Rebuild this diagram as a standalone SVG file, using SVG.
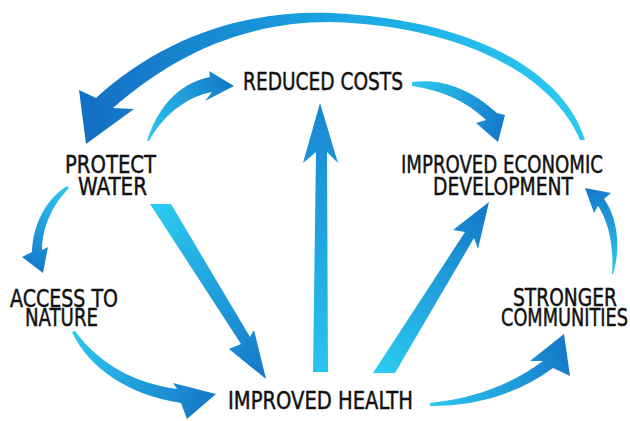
<svg xmlns="http://www.w3.org/2000/svg" width="630" height="421" viewBox="0 0 630 421">
<style>
.lbl{font-family:'DejaVu Sans Condensed','DejaVu Sans',sans-serif;font-stretch:condensed;font-size:24px;fill:#111;stroke:#111;stroke-width:0.45px;}
</style>
<defs>
<linearGradient id="g1" gradientUnits="userSpaceOnUse" x1="585" y1="140" x2="90" y2="120"><stop offset="0" stop-color="#2ccbf0"/><stop offset="0.5" stop-color="#1aa6e2"/><stop offset="1" stop-color="#1470c4"/></linearGradient>
<linearGradient id="g2" gradientUnits="userSpaceOnUse" x1="148" y1="140" x2="234" y2="86"><stop offset="0" stop-color="#2cc8ef"/><stop offset="1" stop-color="#1477c8"/></linearGradient>
<linearGradient id="g3" gradientUnits="userSpaceOnUse" x1="412" y1="84" x2="498" y2="142"><stop offset="0" stop-color="#2cc8ef"/><stop offset="1" stop-color="#1477c8"/></linearGradient>
<linearGradient id="g4" gradientUnits="userSpaceOnUse" x1="320" y1="372" x2="320" y2="103"><stop offset="0" stop-color="#2ac4ee"/><stop offset="1" stop-color="#1985d2"/></linearGradient>
<linearGradient id="g5" gradientUnits="userSpaceOnUse" x1="160" y1="204" x2="266" y2="379"><stop offset="0" stop-color="#2ccaf0"/><stop offset="1" stop-color="#1477c8"/></linearGradient>
<linearGradient id="g6" gradientUnits="userSpaceOnUse" x1="384" y1="373" x2="489" y2="202"><stop offset="0" stop-color="#2ccaf0"/><stop offset="1" stop-color="#1477c8"/></linearGradient>
<linearGradient id="g7" gradientUnits="userSpaceOnUse" x1="613" y1="274" x2="585" y2="188"><stop offset="0" stop-color="#2cc8ef"/><stop offset="1" stop-color="#1477c8"/></linearGradient>
<linearGradient id="g8" gradientUnits="userSpaceOnUse" x1="68" y1="187" x2="43" y2="273"><stop offset="0" stop-color="#2cc8ef"/><stop offset="1" stop-color="#1477c8"/></linearGradient>
<linearGradient id="g9" gradientUnits="userSpaceOnUse" x1="73" y1="332" x2="216" y2="394"><stop offset="0" stop-color="#2cc8ef"/><stop offset="1" stop-color="#1477c8"/></linearGradient>
<linearGradient id="g10" gradientUnits="userSpaceOnUse" x1="430" y1="405" x2="564" y2="334"><stop offset="0" stop-color="#2cc8ef"/><stop offset="1" stop-color="#1477c8"/></linearGradient>
</defs>
<rect width="630" height="421" fill="#fff"/>
<g id="connectors">
<path fill="url(#g1)" d="M 585,140 C 565,75 480,20 330,13 C 240,10 160,40 96,98 L 79,90 L 86,144 L 134,109 L 113,108 C 170,58 240,22 330,22 C 470,26 555,80 580,140 Z"/>
<path fill="url(#g2)" d="M 147,141 C 160,100 185,82 210,77 L 209,71 L 234,86 L 205,101 L 212,92 C 190,96 165,112 149,141 Z"/>
<path fill="url(#g3)" d="M 412,82 C 440,78 470,88 497,113 L 505,115 L 498,142 L 476,123 L 486,120 C 465,100 440,90 412,86 Z"/>
<path fill="url(#g4)" d="M 313,372 L 316,152 L 303,163 L 320,103 L 338,163 L 327,152 L 328,372 Z"/>
<path fill="url(#g5)" d="M 150,204 L 171,204 L 250,337 L 254,330 L 266,379 L 229,349 L 241,344 Z"/>
<path fill="url(#g6)" d="M 373,373 L 395,373 L 474,238 L 478,249 L 489,202 L 453,230 L 465,232 Z"/>
<path fill="url(#g7)" d="M 613,274 C 622,245 616,215 604,199 L 611,193 L 585,188 L 594,213 L 598,206 C 609,222 614,248 612,274 Z"/>
<path fill="url(#g8)" d="M 67,186 C 45,200 33,225 32,252 L 22,257 L 43,273 L 48,247 L 42,250 C 42,228 52,205 69,188 Z"/>
<path fill="url(#g9)" d="M 72,332 C 90,370 130,395 181,403 L 187,419 L 216,394 L 173,383 L 177,389 C 135,383 100,365 75,331 Z"/>
<path fill="url(#g10)" d="M 430,406 C 480,406 520,392 553,368 L 570,376 L 564,334 L 530,361 L 543,361 C 510,385 475,398 430,403 Z"/>
</g>
<g id="reduced-costs"><text class="lbl" x="243" y="90" textLength="160" lengthAdjust="spacingAndGlyphs">REDUCED COSTS</text></g>
<g id="protect-water"><text class="lbl" x="65" y="173" textLength="91" lengthAdjust="spacingAndGlyphs">PROTECT</text><text class="lbl" x="78" y="195" textLength="69" lengthAdjust="spacingAndGlyphs">WATER</text></g>
<g id="improved-economic-development"><text class="lbl" x="401" y="173" textLength="202" lengthAdjust="spacingAndGlyphs">IMPROVED ECONOMIC</text><text class="lbl" x="433" y="195" textLength="140" lengthAdjust="spacingAndGlyphs">DEVELOPMENT</text></g>
<g id="access-to-nature"><text class="lbl" x="10" y="307" textLength="108" lengthAdjust="spacingAndGlyphs">ACCESS TO</text><text class="lbl" x="25" y="326" textLength="73" lengthAdjust="spacingAndGlyphs">NATURE</text></g>
<g id="stronger-communities"><text class="lbl" x="513" y="306" textLength="104" lengthAdjust="spacingAndGlyphs">STRONGER</text><text class="lbl" x="501" y="326" textLength="127" lengthAdjust="spacingAndGlyphs">COMMUNITIES</text></g>
<g id="improved-health"><text class="lbl" x="228" y="409" textLength="185" lengthAdjust="spacingAndGlyphs">IMPROVED HEALTH</text></g>
</svg>
